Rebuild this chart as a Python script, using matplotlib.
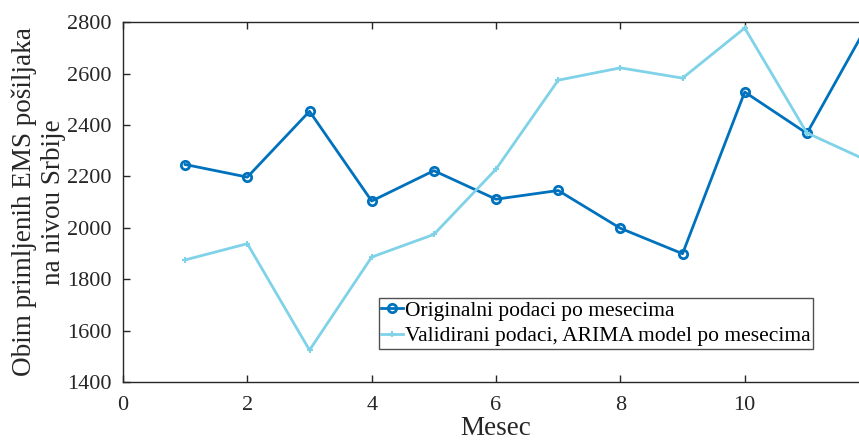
import numpy as np
from matplotlib import pyplot as plt

### Originalni vs. validirani podaci (ARIMA) po mesecima

meseci = [1, 2, 3, 4, 5, 6, 7, 8, 9, 10, 11, 12]
original = [2246, 2197, 2453, 2104, 2222, 2111, 2145, 1998, 1899, 2528, 2367, 2800]
arima = [1875, 1938, 1524, 1886, 1974, 2228, 2574, 2622, 2582, 2777, 2369, 2258]

xTicks = [0, 2, 4, 6, 8, 10]
yTicks = [1400, 1600, 1800, 2000, 2200, 2400, 2600, 2800]

plt.rcParams['font.family'] = ['Liberation Serif', 'DejaVu Serif']
gray = '#262626'

fig = plt.figure(figsize=(8.59, 4.40), dpi=100)
ax = fig.add_axes([0.1432, 0.1318, 0.8685, 0.818])

ax.plot(meseci, original, color='#0072BD', linewidth=2.0, marker='o',
        markersize=6, markerfacecolor='none', markeredgewidth=2.0,
        label='Originalni podaci po mesecima')
ax.plot(meseci, arima, color='#7FD2E7', linewidth=2.0, marker='+',
        markersize=5, markeredgewidth=1.5,
        label='Validirani podaci, ARIMA model po mesecima')

ax.set_xlim(0, 12)
ax.set_ylim(1400, 2800)
ax.set_xticks(xTicks)
ax.set_yticks(yTicks)
ax.tick_params(direction='in', length=5, width=1, colors=gray,
               labelsize=16, top=True, right=True)
ax.tick_params(axis='x', pad=10)
ax.tick_params(axis='y', pad=8)
for s in ax.spines.values():
    s.set_color(gray)
    s.set_linewidth(1.0)

ax.set_xlabel('Mesec', fontsize=19.5, color=gray, labelpad=1)
ax.set_ylabel('Obim primljenih EMS pošiljaka\nna nivou Srbije', fontsize=19.5,
              color=gray, labelpad=1, linespacing=1.2)

leg = ax.legend(loc='lower left', bbox_to_anchor=(0.3426, 0.092), fontsize=15.5,
                frameon=True, fancybox=False, handlelength=1.0,
                handletextpad=0.1, borderpad=0.12, labelspacing=0.25,
                borderaxespad=0)
leg.get_frame().set_edgecolor(gray)
leg.get_frame().set_linewidth(1.0)

fig.savefig('out.png', dpi=100)
